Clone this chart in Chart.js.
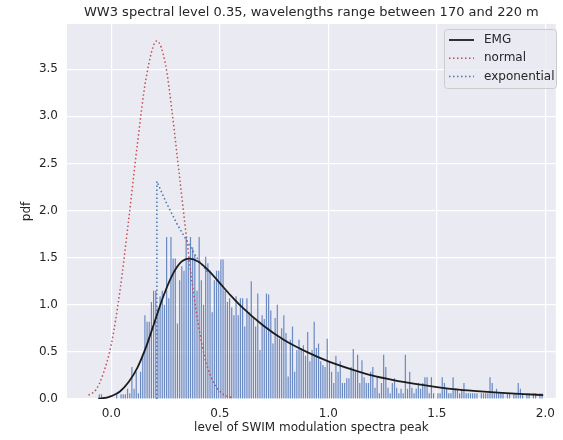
<!DOCTYPE html>
<html>
<head>
<meta charset="utf-8">
<script src="https://cdn.jsdelivr.net/npm/chart.js@4.4.1/dist/chart.umd.min.js"></script>
<style>
  html, body { margin: 0; padding: 0; background: #ffffff; }
  #wrap { width: 563px; height: 440px; position: relative; }
</style>
</head>
<body>
<div id="wrap"><canvas id="c" width="563" height="440"></canvas></div>
<script>
// Histogram of the SWIM modulation spectra peak level (density), bins of width 0.01
const binFirstEdge = -0.06;
const binWidth = 0.01;
const density = [
  0.05, 0.05, 0, 0, 0, 0,                                         // -0.06 .. 0.00
  0, 0, 0.05, 0, 0.05, 0.05, 0.05, 0.11, 0.06, 0.34,              // 0.0 .. 0.1
  0.11, 0.29, 0.06, 0.29, 0.46, 0.89, 0.82, 0.82, 1.03, 1.15,     // 0.1 .. 0.2
  1.15, 0.97, 1.09, 1.15, 1.00, 1.72, 1.07, 1.72, 1.49, 1.49,     // 0.2 .. 0.3
  0.80, 1.26, 1.41, 1.36, 1.72, 1.49, 1.72, 1.61, 1.53, 1.15,     // 0.3 .. 0.4
  1.72, 1.26, 1.00, 1.51, 1.44, 1.36, 0.92, 1.26, 1.36, 1.36,     // 0.4 .. 0.5
  1.48, 1.48, 1.15, 1.03, 1.07, 0.97, 0.89, 1.09, 0.89, 1.07,     // 0.5 .. 0.6
  1.07, 0.77, 1.07, 0.92, 1.25, 0.86, 0.77, 1.12, 0.52, 0.89,     // 0.6 .. 0.7
  0.85, 1.12, 1.11, 0.94, 0.59, 0.86, 1.00, 0.64, 0.75, 0.89,     // 0.7 .. 0.8
  0.70, 0.24, 0.63, 0.77, 0.29, 0.52, 0.63, 0.54, 0.57, 0.46,     // 0.8 .. 0.9
  0.71, 0.40, 0.52, 0.82, 0.54, 0.59, 0.40, 0.36, 0.34, 0.64,     // 0.9 .. 1.0
  0.40, 0.29, 0.17, 0.46, 0.29, 0.40, 0.17, 0.17, 0.22, 0.22,     // 1.0 .. 1.1
  0.34, 0.53, 0.29, 0.47, 0.17, 0.41, 0.23, 0.17, 0.17, 0.29,     // 1.1 .. 1.2
  0.34, 0.12, 0.23, 0.06, 0.17, 0.47, 0.34, 0.12, 0.06, 0.17,     // 1.2 .. 1.3
  0.22, 0.12, 0.06, 0.11, 0.06, 0.47, 0.11, 0.29, 0.12, 0.06,     // 1.3 .. 1.4
  0.11, 0.17, 0.11, 0.17, 0.23, 0.23, 0.06, 0.23, 0.06, 0,        // 1.4 .. 1.5
  0.06, 0.06, 0.23, 0.17, 0.11, 0.06, 0.06, 0.23, 0.11, 0.11,     // 1.5 .. 1.6
  0.06, 0.11, 0.17, 0.06, 0.06, 0.06, 0.06, 0.06, 0.06, 0,        // 1.6 .. 1.7
  0.06, 0.06, 0.06, 0.06, 0.23, 0.17, 0.06, 0.11, 0.06, 0.06,     // 1.7 .. 1.8
  0.06, 0, 0.06, 0.06, 0, 0.06, 0.06, 0.17, 0.11, 0.06,           // 1.8 .. 1.9
  0, 0.06, 0.06, 0, 0.06, 0.06, 0, 0.06, 0.06                     // 1.9 .. 1.99
];

// Fitted exponentially modified Gaussian
const emgX = [-0.06, -0.02, 0.00, 0.04, 0.08, 0.12, 0.16, 0.20, 0.24, 0.28, 0.32, 0.36, 0.40, 0.45,
              0.50, 0.55, 0.60, 0.70, 0.80, 0.90, 1.00, 1.10, 1.20, 1.30, 1.40, 1.50, 1.60, 1.70,
              1.80, 1.90, 1.99];
const emgY = [0.005, 0.015, 0.03, 0.08, 0.18, 0.33, 0.55, 0.82, 1.09, 1.31, 1.45, 1.49, 1.46, 1.36,
              1.23, 1.10, 0.98, 0.78, 0.62, 0.50, 0.40, 0.32, 0.25, 0.20, 0.16, 0.127, 0.10, 0.08,
              0.064, 0.051, 0.042];

// Fitted normal distribution
const normalX = [-0.105, -0.07, -0.04, 0.00, 0.04, 0.08, 0.12, 0.16, 0.21, 0.25, 0.28, 0.31,
                 0.35, 0.39, 0.43, 0.47, 0.51, 0.56];
const normalY = [0.04, 0.10, 0.25, 0.58, 1.15, 1.90, 2.70, 3.40, 3.80, 3.55, 3.05, 2.45,
                 1.65, 0.95, 0.45, 0.18, 0.06, 0.01];

// Fitted exponential distribution (starts at its location parameter)
const exponX = [0.21, 0.21, 0.25, 0.30, 0.35, 0.40, 0.45];
const exponY = [0.00, 2.31, 2.10, 1.87, 1.67, 1.48, 1.33];

const xTicks = [0.0, 0.5, 1.0, 1.5, 2.0];
const yTicks = [0.0, 0.5, 1.0, 1.5, 2.0, 2.5, 3.0, 3.5];

const titleText = 'WW3 spectral level 0.35, wavelengths range between 170 and 220 m';
const xLabel = 'level of SWIM modulation spectra peak';
const yLabel = 'pdf';
const legendItems = [
  { label: 'EMG', color: '#1c1c1c', dash: [] },
  { label: 'normal', color: '#c44e52', dash: [1.5, 2.5] },
  { label: 'exponential', color: '#4c72b0', dash: [1.5, 2.5] }
];

const FONT = '"DejaVu Sans", "Liberation Sans", sans-serif';
const TEXT = '#262626';

const histPoints = density.map((d, i) => ({ x: binFirstEdge + binWidth * (i + 0.5), y: d }));
const toPoints = (xs, ys) => xs.map((x, i) => ({ x: x, y: ys[i] }));

const decor = {
  id: 'decor',
  beforeDraw(chart) {
    const { ctx, chartArea: a } = chart;
    ctx.save();
    ctx.fillStyle = '#eaeaf2';
    ctx.fillRect(a.left, a.top, a.right - a.left, a.bottom - a.top);
    ctx.restore();
  },
  afterDraw(chart) {
    const { ctx, chartArea: a } = chart;
    const cx = (a.left + a.right) / 2;
    ctx.save();
    ctx.fillStyle = TEXT;
    ctx.textAlign = 'center';
    ctx.textBaseline = 'middle';
    ctx.font = '13px ' + FONT;
    ctx.fillText(titleText, cx, 12.5);
    ctx.font = '12px ' + FONT;
    ctx.fillText(xLabel, cx, 428);
    ctx.save();
    ctx.translate(27, (a.top + a.bottom) / 2);
    ctx.rotate(-Math.PI / 2);
    ctx.fillText(yLabel, 0, 0);
    ctx.restore();

    // legend box in the upper right corner
    const bx = 444.5, by = 29.5, bw = 112, bh = 59, r = 3;
    ctx.beginPath();
    ctx.moveTo(bx + r, by);
    ctx.lineTo(bx + bw - r, by);
    ctx.quadraticCurveTo(bx + bw, by, bx + bw, by + r);
    ctx.lineTo(bx + bw, by + bh - r);
    ctx.quadraticCurveTo(bx + bw, by + bh, bx + bw - r, by + bh);
    ctx.lineTo(bx + r, by + bh);
    ctx.quadraticCurveTo(bx, by + bh, bx, by + bh - r);
    ctx.lineTo(bx, by + r);
    ctx.quadraticCurveTo(bx, by, bx + r, by);
    ctx.closePath();
    ctx.fillStyle = 'rgba(234,234,242,0.8)';
    ctx.fill();
    ctx.strokeStyle = '#cccccc';
    ctx.lineWidth = 1;
    ctx.stroke();

    ctx.textAlign = 'left';
    ctx.font = '12px ' + FONT;
    legendItems.forEach((it, i) => {
      const y = 40 + i * 18.3;
      ctx.beginPath();
      ctx.setLineDash(it.dash);
      ctx.strokeStyle = it.color;
      ctx.lineWidth = it.dash.length ? 1.5 : 1.8;
      ctx.moveTo(449, y);
      ctx.lineTo(474, y);
      ctx.stroke();
      ctx.setLineDash([]);
      ctx.fillStyle = TEXT;
      ctx.fillText(it.label, 484, y);
    });
    ctx.restore();
  }
};

new Chart(document.getElementById('c'), {
  type: 'bar',
  data: {
    datasets: [
      {
        type: 'line', label: 'EMG', data: toPoints(emgX, emgY),
        borderColor: '#1c1c1c', borderWidth: 1.8, pointRadius: 0,
        cubicInterpolationMode: 'monotone', fill: false, order: 1
      },
      {
        type: 'line', label: 'normal', data: toPoints(normalX, normalY),
        borderColor: '#c44e52', borderWidth: 1.5, borderDash: [1.5, 2.5], pointRadius: 0,
        cubicInterpolationMode: 'monotone', fill: false, order: 2
      },
      {
        type: 'line', label: 'exponential', data: toPoints(exponX, exponY),
        borderColor: '#4c72b0', borderWidth: 1.5, borderDash: [1.5, 2.5], pointRadius: 0,
        tension: 0, fill: false, order: 3
      },
      {
        type: 'bar', label: 'hist', data: histPoints,
        backgroundColor: '#6989c2', borderWidth: 0,
        barPercentage: 0.55, categoryPercentage: 1.0, order: 10
      }
    ]
  },
  options: {
    responsive: false,
    animation: false,
    parsing: true,
    layout: { padding: { top: 24, right: 5, left: 0, bottom: 0 } },
    plugins: { legend: { display: false }, tooltip: { enabled: false }, title: { display: false } },
    scales: {
      x: {
        type: 'linear', min: -0.204, max: 2.048, offset: false,
        afterFit(s) { s.height = 41; },
        afterBuildTicks(s) { s.ticks = xTicks.map(v => ({ value: v })); },
        grid: { color: '#ffffff', lineWidth: 1.2, drawTicks: false, offset: false },
        border: { display: false },
        ticks: {
          padding: 8, color: TEXT, font: { family: FONT, size: 12 },
          callback: v => Number(v).toFixed(1), maxRotation: 0
        }
      },
      y: {
        type: 'linear', min: 0, max: 3.98,
        afterFit(s) { s.width = 67; },
        afterBuildTicks(s) { s.ticks = yTicks.map(v => ({ value: v })); },
        grid: { color: '#ffffff', lineWidth: 1.2, drawTicks: false },
        border: { display: false },
        ticks: {
          padding: 9, color: TEXT, font: { family: FONT, size: 12 },
          callback: v => Number(v).toFixed(1)
        }
      }
    }
  },
  plugins: [decor]
});
</script>
</body>
</html>
